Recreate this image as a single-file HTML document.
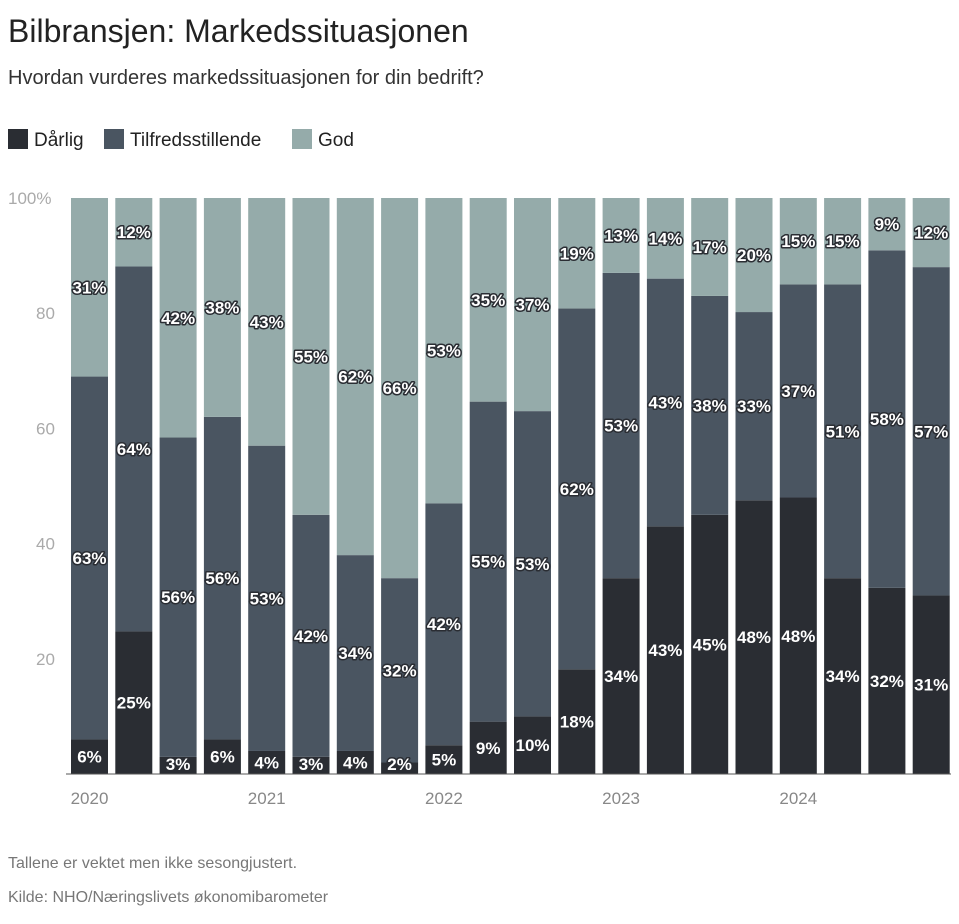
<!DOCTYPE html>
<html><head><meta charset="utf-8"><style>
body{margin:0;background:#fff;width:959px;height:919px;overflow:hidden;font-family:"Liberation Sans",sans-serif}
</style></head><body>
<svg width="959" height="919" font-family="Liberation Sans, sans-serif">
<text x="8" y="42" font-size="32" fill="#222">Bilbransjen: Markedssituasjonen</text>
<text x="8" y="84" font-size="20" fill="#333">Hvordan vurderes markedssituasjonen for din bedrift?</text>
<g>
<rect x="8" y="129" width="20" height="20" fill="#2a2d33"/>
<text x="34" y="146" font-size="19" fill="#222">Dårlig</text>
<rect x="104" y="129" width="20" height="20" fill="#4a5561"/>
<text x="130" y="146" font-size="19" fill="#222">Tilfredsstillende</text>
<rect x="292" y="129" width="20" height="20" fill="#95abaa"/>
<text x="318" y="146" font-size="19" fill="#222">God</text>
</g>
<g id="plot"></g>
<text x="8" y="868" font-size="16" fill="#777">Tallene er vektet men ikke sesongjustert.</text>
<text x="8" y="902" font-size="16" fill="#777">Kilde: NHO/Næringslivets økonomibarometer</text>
</svg>
<script>
const darlig=[6,25,3,6,4,3,4,2,5,9,10,18,34,43,45,48,48,34,32,31];
const tilfreds=[63,64,56,56,53,42,34,32,42,55,53,62,53,43,38,33,37,51,58,57];
const god=[31,12,42,38,43,55,62,66,53,35,37,19,13,14,17,20,15,15,9,12];
const yTicks=[100,80,60,40,20];
const xLabels=["2020","","","","2021","","","","2022","","","","2023","","","","2024","","",""];
const NS="http://www.w3.org/2000/svg";
const g=document.getElementById('plot');
const y0=774,yTop=198,x0=71,step=44.3,bw=37;
const Y=v=>y0-(v/100)*(y0-yTop);
const X=i=>x0+i*step;
function mk(t,a){const e=document.createElementNS(NS,t);for(const k in a)e.setAttribute(k,a[k]);g.appendChild(e);return e;}
yTicks.forEach(v=>{const t=mk('text',{x:v===100?8:36,y:Y(v)+6,'font-size':17,fill:'#aaa'});t.textContent=v===100?'100%':v;

});
const series=[[darlig,'#2a2d33','darlig'],[tilfreds,'#4a5561','tilfreds'],[god,'#95abaa','god']];
const labels=[];
darlig.forEach((_,i)=>{let base=0;
const tot=darlig[i]+tilfreds[i]+god[i];
series.forEach(([arr,col,nm])=>{const v=arr[i]*100/tot;
const r=mk('rect',{x:X(i),y:Y(base+v),width:bw,height:Y(base)-Y(base+v),fill:col});


let cy=Y(base+v/2);if(v<=6)cy=Math.min(cy,Y(base)-10);
labels.push([X(i)+bw/2,cy,arr[i],nm,i]);base+=v;});
if(xLabels[i]){const t=mk('text',{x:X(i)+bw/2,y:804,'font-size':17,fill:'#888','text-anchor':'middle'});t.textContent=xLabels[i];

}
});
mk('line',{x1:66,x2:951,y1:y0,y2:y0,stroke:'#555','stroke-width':1});
labels.forEach(([x,y,v,nm,i])=>{const t=mk('text',{x:x,y:y+6,'font-size':17,'font-weight':'bold',fill:'#fff','text-anchor':'middle',stroke:'#2a2d33','stroke-width':3,'paint-order':'stroke','stroke-linejoin':'round'});t.textContent=v+'%';

});
</script>
</body></html>
